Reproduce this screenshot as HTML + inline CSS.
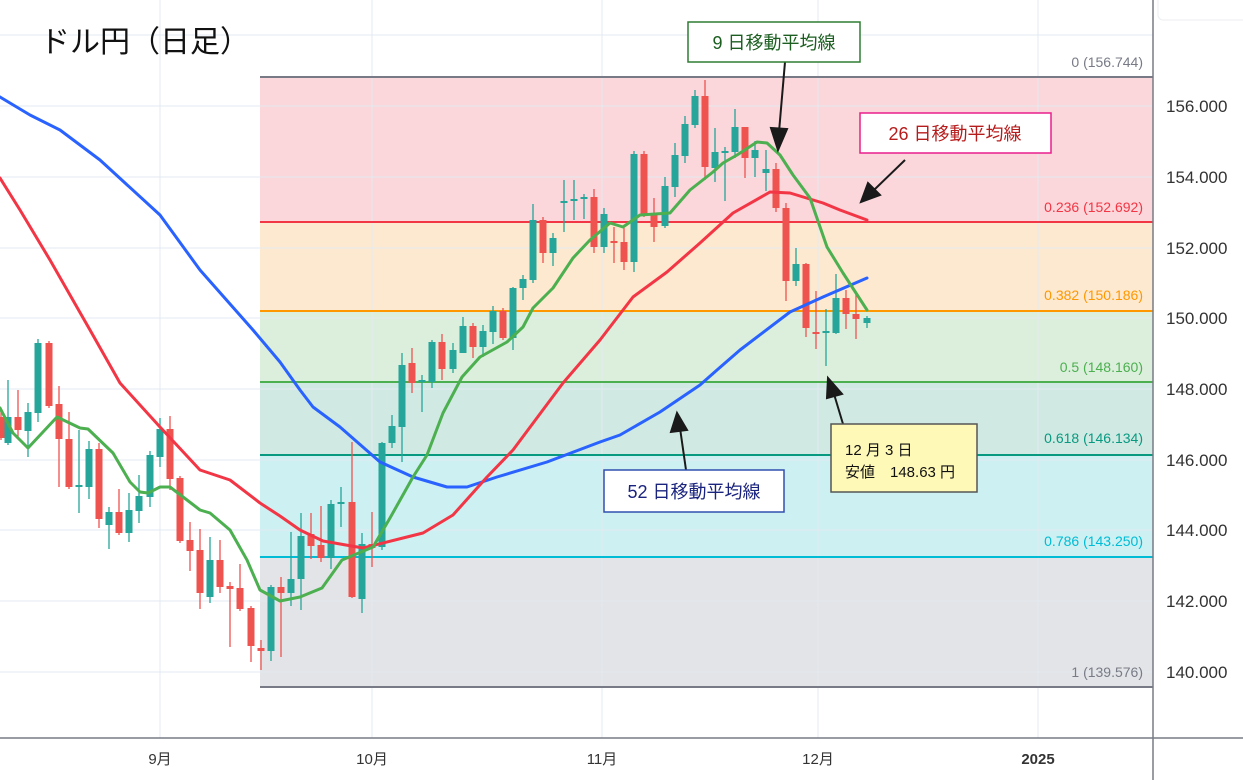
<!DOCTYPE html>
<html><head><meta charset="utf-8"><style>
html,body{margin:0;padding:0;background:#fff;}
svg{display:block;font-family:"Liberation Sans","Noto Sans CJK JP",sans-serif;}
</style></head><body>
<svg width="1243" height="780" viewBox="0 0 1243 780" xmlns="http://www.w3.org/2000/svg">
<rect width="1243" height="780" fill="#fff"/>
<rect x="260" y="77" width="893" height="145" fill="#fbd6da"/>
<rect x="260" y="222" width="893" height="89" fill="#fde9cf"/>
<rect x="260" y="311" width="893" height="71" fill="#dcefdc"/>
<rect x="260" y="382" width="893" height="73" fill="#d0eae3"/>
<rect x="260" y="455" width="893" height="102" fill="#cdf0f3"/>
<rect x="260" y="557" width="893" height="130" fill="#e3e4e7"/>
<g stroke="#e3eaf0" stroke-width="1">
<path d="M0 35H1153M0 106H1153M0 177H1153M0 248H1153M0 318H1153M0 389H1153M0 460H1153M0 530H1153M0 601H1153M0 672H1153"/>
<path d="M160 0V738M372 0V738M602 0V738M818 0V738M1038 0V738"/>
</g>
<path d="M260 77H1153" stroke="#787b86" stroke-width="2"/>
<path d="M260 222H1153" stroke="#f23645" stroke-width="2"/>
<path d="M260 311H1153" stroke="#ff9800" stroke-width="2"/>
<path d="M260 382H1153" stroke="#4caf50" stroke-width="2"/>
<path d="M260 455H1153" stroke="#089981" stroke-width="2"/>
<path d="M260 557H1153" stroke="#00bcd4" stroke-width="2"/>
<path d="M260 687H1153" stroke="#787b86" stroke-width="2"/>
<g font-size="14" text-anchor="end">
<text x="1143" y="67" fill="#787b86">0 (156.744)</text>
<text x="1143" y="212" fill="#f23645">0.236 (152.692)</text>
<text x="1143" y="300" fill="#ff9800">0.382 (150.186)</text>
<text x="1143" y="372" fill="#4caf50">0.5 (148.160)</text>
<text x="1143" y="443" fill="#089981">0.618 (146.134)</text>
<text x="1143" y="546" fill="#00bcd4">0.786 (143.250)</text>
<text x="1143" y="677" fill="#787b86">1 (139.576)</text>
</g>
<g stroke="#26a69a" fill="none">
<path stroke-width="1.3" d="M8 380V445M28 403V457M38 339V422M79 430V513M89 441V499M109 507V549M129 493V542M139 475V523M150 451V507M160 418V467M210 537V603M271 585V661M291 532V606M301 513V610M331 500V569M341 487V527M362 533V613M382 442V550M392 415V448M402 353V462M422 375V412M432 340V388M453 343V373M463 317V353M483 325V357M493 306V344M513 287V350M523 275V300M533 204V283M553 233V266M564 180V232M574 180V220M584 194V219M604 208V253M634 151V272M665 177V228M675 143V197M685 116V163M695 90V128M715 128V182M725 147V201M735 109V158M755 141V177M766 150V191M796 248V286M826 309V366M836 274V334M867 316V328"/>
<path stroke-width="7" d="M8 417V443M28 412V431M38 343V413M79 485V487M89 449V487M109 512V525M129 510V533M139 496V511M150 455V497M160 429V457M210 560V597M271 587V651M291 579V593M301 536V579M331 504V558M341 502V504M362 544V599M382 443V547M392 426V443M402 365V427M422 380V382M432 342V382M453 350V369M463 326V353M483 331V347M493 311V332M513 288V338M523 279V288M533 220V280M553 238V253M564 201V203M574 199V201M584 197V199M604 214V247M634 154V262M665 186V226M675 155V187M685 124V156M695 96V125M715 152V168M725 151V153M735 127V152M755 150V158M766 169V173M796 264V281M826 331V333M836 298V333M867 318V323"/>
</g>
<g stroke="#ef5350" fill="none">
<path stroke-width="1.3" d="M1 410V440M18 390V437M49 341V408M59 386V487M69 412V489M99 443V528M119 489V535M170 416V490M180 476V543M190 522V571M200 529V609M220 540V593M230 582V647M240 564V611M251 606V662M261 640V670M281 577V657M311 513V559M321 506V562M352 442V598M372 512V567M412 348V393M442 334V380M473 323V358M503 308V340M543 217V263M594 189V253M614 227V263M624 228V270M644 151V217M654 198V242M705 80V180M745 127V178M776 163V212M786 203V301M806 263V337M816 291V349M846 290V329M856 293V339"/>
<path stroke-width="7" d="M1 417V438M18 417V430M49 343V406M59 404V439M69 439V487M99 449V519M119 512V533M170 429V479M180 478V541M190 540V551M200 550V593M220 560V587M230 586V589M240 588V609M251 608V646M261 648V651M281 587V593M311 534V546M321 545V558M352 502V597M372 544V548M412 363V383M442 342V369M473 326V347M503 311V338M543 220V253M594 197V247M614 241V243M624 242V262M644 154V215M654 214V227M705 96V167M745 127V158M776 169V208M786 208V281M806 264V328M816 332V334M846 298V314M856 314V319"/>
</g>
<g fill="none" stroke-width="3" stroke-linejoin="round" stroke-linecap="round">
<polyline stroke="#2962ff" points="0,97 30,115 60,130 100,160 160,215 200,270 253,330 280,362 300,390 313,407 340,427 380,462 413,477 447,487 467,487 497,477 547,462 600,442 620,435 660,412 700,385 717,370 740,350 790,312 823,297 867,278"/>
<polyline stroke="#f23645" points="0,178 20,210 50,260 90,330 120,383 160,427 200,470 230,480 260,503 280,516 300,530 323,541 363,548 403,538 423,533 453,515 487,477 513,450 563,383 600,340 633,297 667,272 700,243 733,213 770,192 790,193 823,203 840,210 867,220"/>
<polyline stroke="#4caf50" points="0,408 13,433 28,448 57,417 80,428 88,429 113,453 130,482 140,492 148,493 160,487 170,487 187,500 200,510 210,513 230,530 247,560 260,590 280,601 300,597 322,588 342,560 373,547 390,518 413,477 427,455 443,413 462,377 480,357 507,342 523,327 533,308 553,288 573,258 590,240 610,223 623,227 640,215 670,213 690,190 713,172 723,163 737,155 757,142 767,143 780,155 793,175 810,198 827,247 843,273 867,310"/>
</g>
<g stroke="#1a1a1a" stroke-width="2" fill="#1a1a1a">
<path d="M785 62L779 132" fill="none"/><polygon points="778,150 771,128 787,129"/>
<path d="M905 160L874 190" fill="none"/><polygon points="861,202 868,183 880,195"/>
<path d="M686 470L680 428" fill="none"/><polygon points="677,413 671,432 687,430"/>
<path d="M843 424L834 394" fill="none"/><polygon points="828,378 827,398 842,394"/>
</g>
<rect x="688" y="22" width="172" height="40" fill="#fff" stroke="#2e7d32" stroke-width="1.5"/>
<text x="774" y="49" font-size="18" fill="#1b5e20" text-anchor="middle">9 日移動平均線</text>
<rect x="860" y="113" width="191" height="40" fill="#fff" stroke="#e91e8c" stroke-width="1.5"/>
<text x="955" y="140" font-size="18" fill="#b71c1c" text-anchor="middle">26 日移動平均線</text>
<rect x="604" y="470" width="180" height="42" fill="#fff" stroke="#3050b0" stroke-width="1.5"/>
<text x="694" y="498" font-size="18" fill="#1a237e" text-anchor="middle">52 日移動平均線</text>
<rect x="831" y="424" width="146" height="68" fill="#fff9b8" stroke="#555" stroke-width="1.5"/>
<text x="845" y="455" font-size="15" fill="#111">12 月 3 日</text>
<text x="845" y="477" font-size="15" fill="#111">安値　148.63 円</text>
<text x="40" y="52" font-size="30" fill="#111">ドル円（日足）</text>
<path d="M1153 0V780" stroke="#787b86" stroke-width="1.5"/>
<path d="M0 738H1243" stroke="#787b86" stroke-width="1.5"/>
<rect x="1158" y="-5" width="90" height="25" rx="5" fill="#fff" stroke="#eceef2"/>
<g font-size="17" fill="#333">
<text x="1166" y="112">156.000</text><text x="1166" y="183">154.000</text><text x="1166" y="254">152.000</text><text x="1166" y="324">150.000</text><text x="1166" y="395">148.000</text><text x="1166" y="466">146.000</text><text x="1166" y="536">144.000</text><text x="1166" y="607">142.000</text><text x="1166" y="678">140.000</text>
</g>
<g font-size="15" fill="#333" text-anchor="middle">
<text x="160" y="764">9月</text><text x="372" y="764">10月</text><text x="602" y="764">11月</text><text x="818" y="764">12月</text><text x="1038" y="764" font-weight="bold">2025</text>
</g>
</svg>
</body></html>
